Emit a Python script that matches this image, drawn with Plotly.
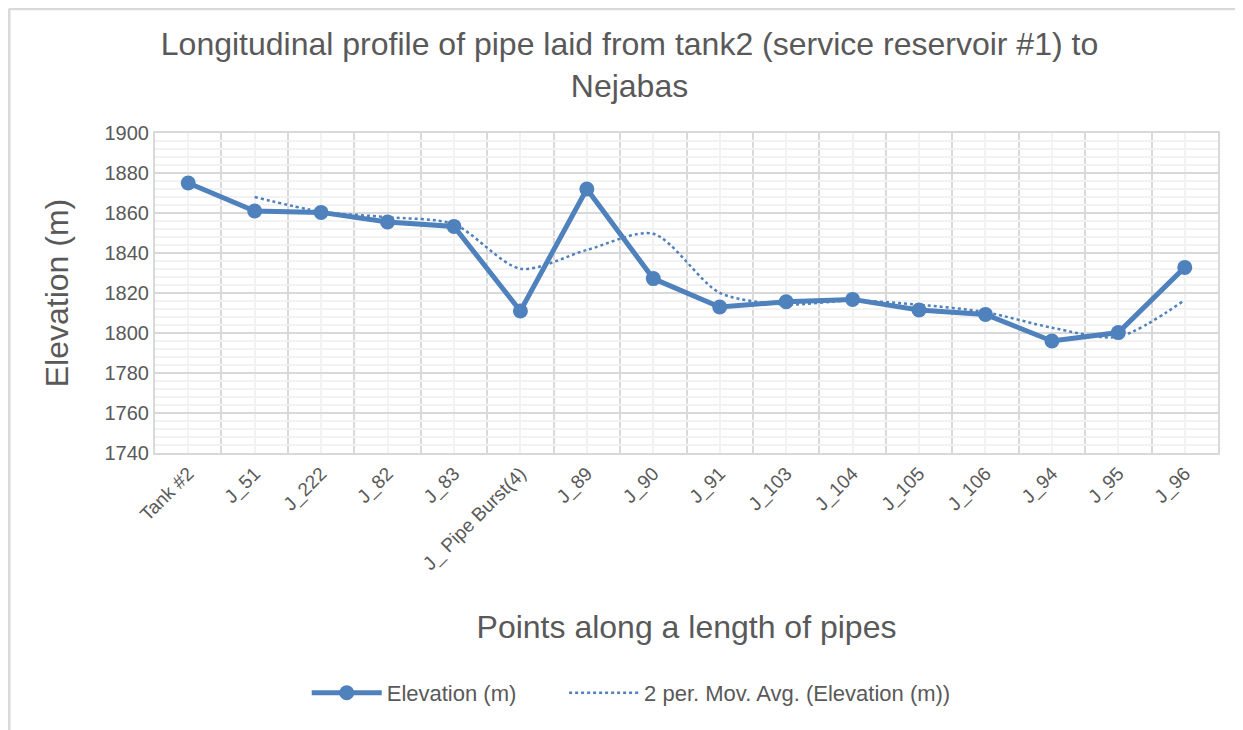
import plotly.graph_objects as go
import pandas as pd

# points along the pipe and elevations
points = ['Tank #2', 'J_51', 'J_222', 'J_82', 'J_83', 'J_ Pipe Burst(4)', 'J_89', 'J_90',
          'J_91', 'J_103', 'J_104', 'J_105', 'J_106', 'J_94', 'J_95', 'J_96']
elevation = [1875, 1861, 1860.3, 1855.5, 1853.3, 1811, 1872, 1827.2,
             1813, 1815.6, 1816.8, 1811.5, 1809.3, 1796, 1800.2, 1832.8]

y_ticks = [1740, 1760, 1780, 1800, 1820, 1840, 1860, 1880, 1900]

# 2 period moving average trendline (same as the Excel trendline)
mov_avg = pd.Series(elevation).rolling(window=2).mean()

blue = '#4f81bd'
grey_txt = '#595959'
font = 'Liberation Sans, Arial, sans-serif'
x = list(range(len(points)))
gap = '\u00a0' * 7  # spacing between the two legend entries

fig = go.Figure()
fig.add_trace(go.Scatter(x=x, y=elevation, name='Elevation (m)' + gap, mode='lines+markers',
                         line=dict(color=blue, width=5), marker=dict(color=blue, size=15)))
fig.add_trace(go.Scatter(x=x, y=mov_avg, name='2 per. Mov. Avg. (Elevation (m))', mode='lines',
                         line=dict(color=blue, width=2.5, dash='dot', shape='spline', smoothing=0.8)))

fig.update_layout(
    width=1243, height=730,
    margin=dict(l=147, r=33, t=125, b=285),
    paper_bgcolor='white', plot_bgcolor='white',
    font=dict(family=font, color=grey_txt, size=20),
    title=dict(text='Longitudinal profile of pipe laid from tank2 (service reservoir #1) to<br>Nejabas',
               x=0.5, xanchor='center', y=0.935, yanchor='middle',
               font=dict(size=32, color=grey_txt)),
    legend=dict(orientation='h', x=0.448, xanchor='center', y=-0.75, yanchor='middle',
                font=dict(size=22, color=grey_txt), itemwidth=70),
    showlegend=True,
)

fig.update_xaxes(
    range=[-0.5, len(points) - 0.5], tickmode='array', tickvals=x, ticktext=points,
    tickangle=-45, tickfont=dict(size=19), showgrid=True, gridcolor='#f2f2f2', gridwidth=1.5,
    zeroline=False, showline=True, linecolor='#d9d9d9', linewidth=2, mirror=True, ticks='',
    minor=dict(tickmode='array', tickvals=[i - 0.5 for i in range(len(points) + 1)],
               showgrid=True, gridcolor='#d9d9d9', gridwidth=2),
    title=dict(text='Points along a length of pipes', font=dict(size=32, color=grey_txt), standoff=42),
)
fig.update_yaxes(
    range=[1740, 1900], tickmode='array', tickvals=y_ticks, showgrid=True,
    gridcolor='#d9d9d9', gridwidth=2, zeroline=False,
    showline=True, linecolor='#d9d9d9', linewidth=2, mirror=True, ticks='',
    minor=dict(dtick=4, tick0=1740, showgrid=True, gridcolor='#f2f2f2', gridwidth=1.5),
    title=dict(text='Elevation (m)', font=dict(size=32, color=grey_txt), standoff=26),
)

# light chart frame (top and left edges of the Excel chart area)
fig.add_shape(type='line', xref='paper', yref='paper', x0=-146 / 1063, x1=1.04, y0=1.388, y1=1.388,
              line=dict(color='#d9d9d9', width=3))
fig.add_shape(type='line', xref='paper', yref='paper', x0=-146 / 1063, x1=-146 / 1063, y0=1.388, y1=-0.9,
              line=dict(color='#d9d9d9', width=3))

fig.write_html('out.html')
